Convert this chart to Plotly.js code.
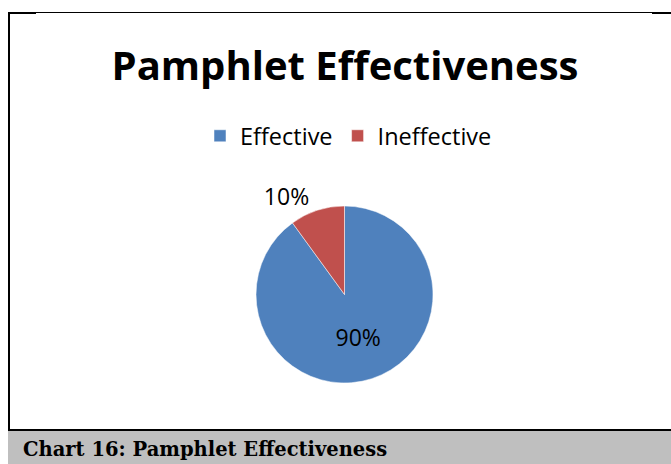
<!DOCTYPE html>
<html>
<head>
<meta charset="utf-8">
<script src="https://cdn.plot.ly/plotly-3.0.1.min.js"></script>
<style>html,body{margin:0;padding:0;background:#fff;}#chart{width:671px;height:464px;}</style>
</head>
<body>
<div id="chart"></div>
<script>
const categories = ["Effective", "Ineffective"];
const values = [90, 10];
const colors = ["#4F81BD", "#C0504D"];
const labelPositions = ["inside", "outside"];
const chartTitle = "Pamphlet Effectiveness";
const caption = "Chart 16: Pamphlet Effectiveness";

const W = 671, H = 464;
const px = v => v / W;
const py = v => 1 - v / H;

const trace = {
  type: "pie",
  labels: categories,
  values: values,
  marker: { colors: colors, line: { color: "#ffffff", width: 0.5 } },
  sort: false,
  direction: "clockwise",
  rotation: 0,
  texttemplate: "%{percent:.0%}",
  textposition: labelPositions,
  textfont: { family: "Open Sans, sans-serif", size: 23, color: "#000000" },
  insidetextorientation: "horizontal",
  hoverinfo: "none",
  domain: { x: [px(344.5 - 140), px(344.5 + 140)], y: [py(294.5 + 88.5), py(294.5 - 88.5)] }
};

const layout = {
  width: W, height: H,
  margin: { l: 0, r: 0, t: 0, b: 0 },
  paper_bgcolor: "#ffffff",
  showlegend: true,
  title: {
    text: "<b>" + chartTitle + "</b>",
    font: { family: "Open Sans, sans-serif", size: 40, color: "#000000" },
    x: px(345), xanchor: "center",
    y: py(65.5), yanchor: "middle", yref: "paper"
  },
  legend: {
    orientation: "h",
    x: px(348.5), xanchor: "center",
    y: py(136), yanchor: "middle",
    font: { family: "Open Sans, sans-serif", size: 23.5, color: "#000000" },
    traceorder: "normal"
  },
  shapes: [
    { type: "rect", xref: "paper", yref: "paper", x0: px(8), x1: px(671), y0: py(464), y1: py(430), fillcolor: "#bfbfbf", line: { width: 0 }, layer: "below" },
    { type: "line", xref: "paper", yref: "paper", x0: px(8), x1: px(671), y0: py(430), y1: py(430), line: { color: "#000000", width: 2 } },
    { type: "line", xref: "paper", yref: "paper", x0: px(8), x1: px(671), y0: py(12.5), y1: py(12.5), line: { color: "#000000", width: 1 } },
    { type: "line", xref: "paper", yref: "paper", x0: px(8), x1: px(36), y0: py(13), y1: py(13), line: { color: "#000000", width: 2 } },
    { type: "line", xref: "paper", yref: "paper", x0: px(652), x1: px(671), y0: py(13), y1: py(13), line: { color: "#000000", width: 2 } },
    { type: "line", xref: "paper", yref: "paper", x0: px(9), x1: px(9), y0: py(12), y1: py(430), line: { color: "#000000", width: 2 } }
  ],
  annotations: [
    { text: "<b>" + caption + "</b>", xref: "paper", yref: "paper", x: px(21), xanchor: "left", y: py(449), yanchor: "middle", showarrow: false,
      font: { family: "DejaVu Serif, serif", size: 19.5, color: "#000000" } }
  ]
};

Plotly.newPlot("chart", [trace], layout, { displayModeBar: false, staticPlot: true });
</script>
</body>
</html>
